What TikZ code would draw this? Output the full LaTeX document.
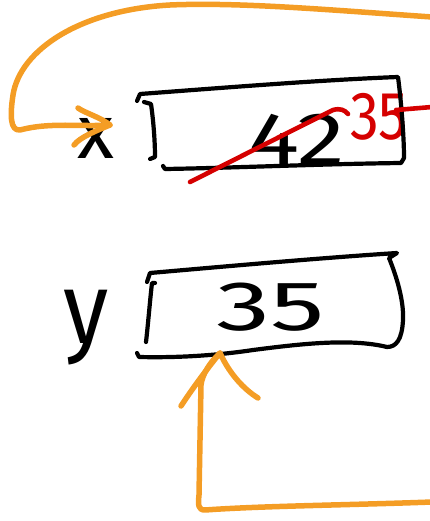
\documentclass[tikz,border=0pt]{standalone}
\usepackage{fontspec}
\setmainfont{Fira Sans}
\usetikzlibrary{calc}
\definecolor{penorange}{HTML}{F49D25}
\definecolor{penred}{HTML}{D50000}
\tikzset{
  ink/.style={line width=4.2pt, line cap=round, line join=round, black},
  orangeink/.style={line width=5.5pt, line cap=round, line join=round, penorange},
  redink/.style={line width=4.6pt, line cap=round, line join=round, penred},
  hand/.style={inner sep=0pt, anchor=base},
}
\begin{document}
\begin{tikzpicture}[x=1pt,y=-1pt]
\useasboundingbox (0,0) rectangle (429,521);

% ---- labels and values ----
\node[hand, font=\fontsize{76}{76}\selectfont] (xlab) at (96,159) {x};
\node[hand, font=\fontsize{92}{92}\selectfont, yscale=1.1] (ylab) at (86,343) {y};
\node[hand, font=\fontsize{74}{74}\selectfont, xscale=1.3] (old) at (297,165) {42};
\node[hand, font=\fontsize{68}{68}\selectfont, xscale=0.85, text=penred] (new) at (379,140) {35};
\node[hand, font=\fontsize{70}{70}\selectfont, xscale=1.55] (yval) at (271,330) {35};

% ---- box for x ----
\draw[ink] (137,101) -- (140,94) .. controls (220,88) and (320,80) .. (398,77)
  .. controls (401,100) and (404,135) .. (404,158) -- (401,163)
  .. controls (320,164) and (230,168) .. (165,169) -- (163,166);
\draw[ink] (144,102) -- (151,104) .. controls (154,125) and (155,145) .. (155,157) -- (150,159);

% ---- box for y ----
\draw[ink] (147,282) -- (150,273) .. controls (230,266) and (320,258) .. (397,253) -- (389,258)
  .. controls (396,275) and (404,300) .. (403,320) .. controls (402,340) and (396,347) .. (387,347)
  .. controls (350,338) and (300,344) .. (253,350) .. controls (220,355) and (180,358) .. (139,357) -- (137,353);
\draw[ink] (155,283) -- (152,283) .. controls (150,300) and (148,325) .. (146,342);

% ---- red correction ----
\draw[redink] (190,182) -- (333,110) .. controls (340,108) and (345,110) .. (348,114);
\draw[redink] (396,110) -- (432,107);

% ---- orange arrow into x ----
\coordinate (topin) at (432,17);
\coordinate (xtip) at (110,125);
\draw[orangeink] (topin) .. controls (330,10) and (240,2) .. (170,5)
  .. controls (80,10) and (20,50) .. (13,95)
  .. controls (10,115) and (10,131) .. (20,130)
  .. controls (50,122) and (80,127) .. (xtip);
\draw[orangeink] ($(xtip)+(-32,-17)$) .. controls ($(xtip)+(-25,-12)$) and ($(xtip)+(-10,-8)$) .. (xtip)
  .. controls ($(xtip)+(-12,5)$) and ($(xtip)+(-30,12)$) .. ($(xtip)+(-36,20)$);

% ---- orange arrow into y ----
\coordinate (botin) at (432,502);
\coordinate (ytip) at (220,353);
\draw[orangeink] (botin) .. controls (350,505) and (260,506) .. (205,510)
  .. controls (198,510) and (198,505) .. (199,495) -- (201,385) .. controls (202,375) and (210,362) .. (ytip);
\draw[orangeink] (181,406) -- (185,400) .. controls (195,385) and (210,365) .. (ytip)
  .. controls (230,375) and (245,390) .. (258,398);
\end{tikzpicture}
\end{document}
